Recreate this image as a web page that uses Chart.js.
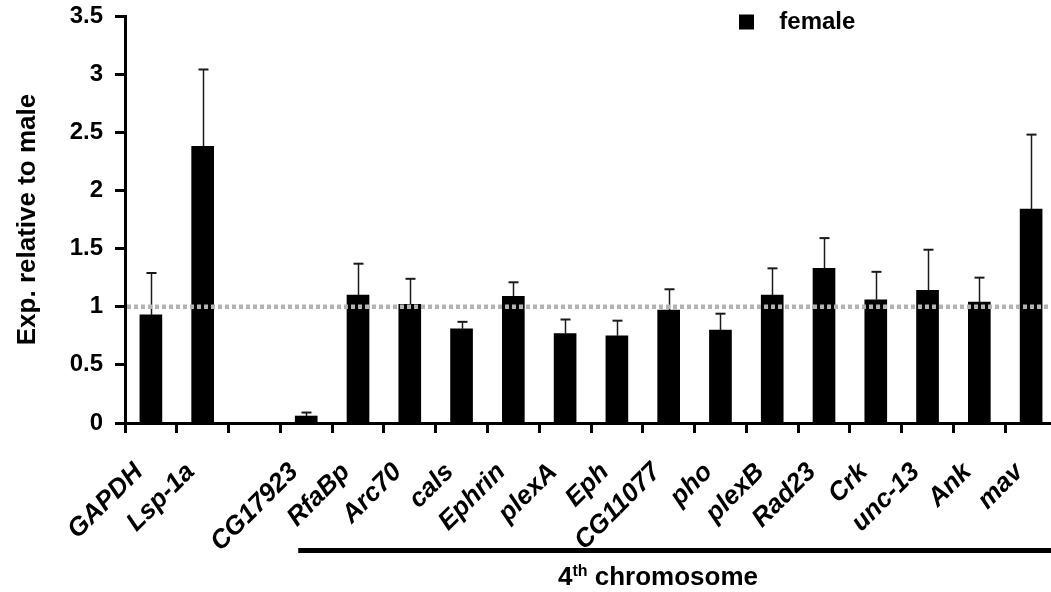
<!DOCTYPE html>
<html>
<head>
<meta charset="utf-8">
<script src="https://cdn.jsdelivr.net/npm/chart.js@4.4.1/dist/chart.umd.min.js"></script>
<style>
  html, body { margin: 0; padding: 0; background: #fff; overflow: hidden; }
  #wrap { position: absolute; left: 0; top: 0; width: 1080px; height: 592px; }
</style>
</head>
<body>
<div id="wrap"><canvas id="c" width="1080" height="592"></canvas></div>
<script>
// ---- data ----
const categories = ['GAPDH', 'Lsp-1a', '', 'CG17923', 'RfaBp', 'Arc70', 'cals', 'Ephrin', 'plexA', 'Eph',
  'CG11077', 'pho', 'plexB', 'Rad23', 'Crk', 'unc-13', 'Ank', 'mav'];
const femaleValues = [0.93, 2.38, null, 0.06, 1.10, 1.02, 0.81, 1.09, 0.77, 0.75,
  0.97, 0.80, 1.10, 1.33, 1.06, 1.14, 1.04, 1.84];
const femaleErrors = [0.36, 0.66, null, 0.03, 0.27, 0.22, 0.06, 0.12, 0.12, 0.13,
  0.18, 0.14, 0.23, 0.26, 0.24, 0.35, 0.21, 0.64];
const yTicks = [0, 0.5, 1, 1.5, 2, 2.5, 3, 3.5];
const yTickLabels = ['0', '0.5', '1', '1.5', '2', '2.5', '3', '3.5'];
const referenceLevel = 1;
const seriesName = 'female';
const groupLabelMain = '4';
const groupLabelSup = 'th';
const groupLabelRest = ' chromosome';

const FONT = 'Arial, "Liberation Sans", Helvetica, sans-serif';

const extrasPlugin = {
  id: 'extras',
  afterLayout(chart) {
    const lg = chart.legend;
    if (lg) {
      lg.left = 729; lg.right = 729 + 200;
      lg.top = 0; lg.bottom = lg.top + 40;
    }
  },
  afterDatasetsDraw(chart) {
    const ctx = chart.ctx;
    const y = chart.scales.y;
    const area = chart.chartArea;
    const meta = chart.getDatasetMeta(0);
    ctx.save();
    // error bars (upper only)
    ctx.strokeStyle = '#1a1a1a';
    femaleValues.forEach((v, i) => {
      if (v === null || femaleErrors[i] === null) return;
      const bar = meta.data[i];
      const x = Math.round(bar.x) + 0.5;
      const y0 = y.getPixelForValue(v);
      const y1 = y.getPixelForValue(v + femaleErrors[i]);
      ctx.lineWidth = 1.5;
      ctx.beginPath(); ctx.moveTo(x, y0); ctx.lineTo(x, y1); ctx.stroke();
      ctx.lineWidth = 2;
      ctx.beginPath(); ctx.moveTo(x - 5, y1); ctx.lineTo(x + 5, y1); ctx.stroke();
    });
    // dashed reference line
    const yr = y.getPixelForValue(referenceLevel);
    ctx.strokeStyle = '#b3b3b3';
    ctx.lineWidth = 4.5;
    ctx.setLineDash([4, 3]);
    ctx.beginPath(); ctx.moveTo(area.left + 2, yr); ctx.lineTo(area.right, yr); ctx.stroke();
    ctx.restore();
  },
  afterDraw(chart) {
    const ctx = chart.ctx;
    const xs = chart.scales.x;
    ctx.save();
    // group bar
    const x0 = xs.getPixelForValue(3) - 8;
    ctx.fillStyle = '#000';
    ctx.fillRect(x0, 548, chart.width - x0, 5);
    // group label
    const mainFont = 'bold 26px ' + FONT;
    const supFont = 'bold 16px ' + FONT;
    ctx.font = mainFont;
    const w1 = ctx.measureText(groupLabelMain).width;
    const w3 = ctx.measureText(groupLabelRest).width;
    ctx.font = supFont;
    const w2 = ctx.measureText(groupLabelSup).width;
    const total = w1 + w2 + w3;
    let cx = 658 - total / 2;
    const base = 585;
    ctx.textBaseline = 'alphabetic';
    ctx.textAlign = 'left';
    ctx.font = mainFont;
    ctx.fillText(groupLabelMain, cx, base);
    cx += w1;
    ctx.font = supFont;
    ctx.fillText(groupLabelSup, cx, base - 9);
    cx += w2;
    ctx.font = mainFont;
    ctx.fillText(groupLabelRest, cx, base);
    ctx.restore();
  }
};

new Chart(document.getElementById('c'), {
  type: 'bar',
  data: {
    labels: categories,
    datasets: [{
      label: seriesName,
      data: femaleValues,
      backgroundColor: '#000',
      borderWidth: 0,
      barThickness: 22
    }]
  },
  options: {
    responsive: false,
    animation: false,
    layout: { padding: { left: 0, top: 16, right: 23, bottom: 0 } },
    plugins: {
      legend: {
        position: 'chartArea',
        align: 'start',
        labels: {
          boxWidth: 15,
          boxHeight: 15,
          color: '#000',
          font: { family: FONT, size: 24, weight: 'bold' },
          generateLabels(chart) {
            const items = Chart.defaults.plugins.legend.labels.generateLabels(chart);
            items.forEach(it => { it.text = '  ' + it.text; it.lineWidth = 0; });
            return items;
          }
        }
      },
      tooltip: { enabled: false }
    },
    scales: {
      x: {
        afterFit(scale) { scale.height = 169; },
        border: { display: true, color: '#000', width: 3 },
        grid: {
          display: true, drawOnChartArea: false, drawTicks: true,
          tickLength: 10, tickWidth: 3, tickColor: '#000', offset: true
        },
        ticks: {
          color: '#000',
          font: { family: FONT, size: 26, weight: 'bold', style: 'italic' },
          minRotation: 45, maxRotation: 45,
          autoSkip: false,
          padding: 24,
          labelOffset: -12
        }
      },
      y: {
        min: 0, max: 3.5,
        afterFit(scale) { scale.width = 125; scale.paddingTop = 14; scale.paddingBottom = 0; },
        afterBuildTicks(scale) { scale.ticks = yTicks.map(v => ({ value: v })); },
        border: { display: true, color: '#000', width: 3 },
        grid: {
          display: true, drawOnChartArea: false, drawTicks: true,
          tickLength: 10, tickWidth: 3, tickColor: '#000'
        },
        ticks: {
          color: '#000',
          font: { family: FONT, size: 24, weight: 'bold' },
          padding: 12,
          callback(value, index) { return yTickLabels[index]; }
        },
        title: {
          display: true,
          text: 'Exp. relative to male',
          color: '#000',
          font: { family: FONT, size: 26, weight: 'bold' },
          padding: { top: 12, bottom: 0 }
        }
      }
    }
  },
  plugins: [extrasPlugin]
});
</script>
</body>
</html>
